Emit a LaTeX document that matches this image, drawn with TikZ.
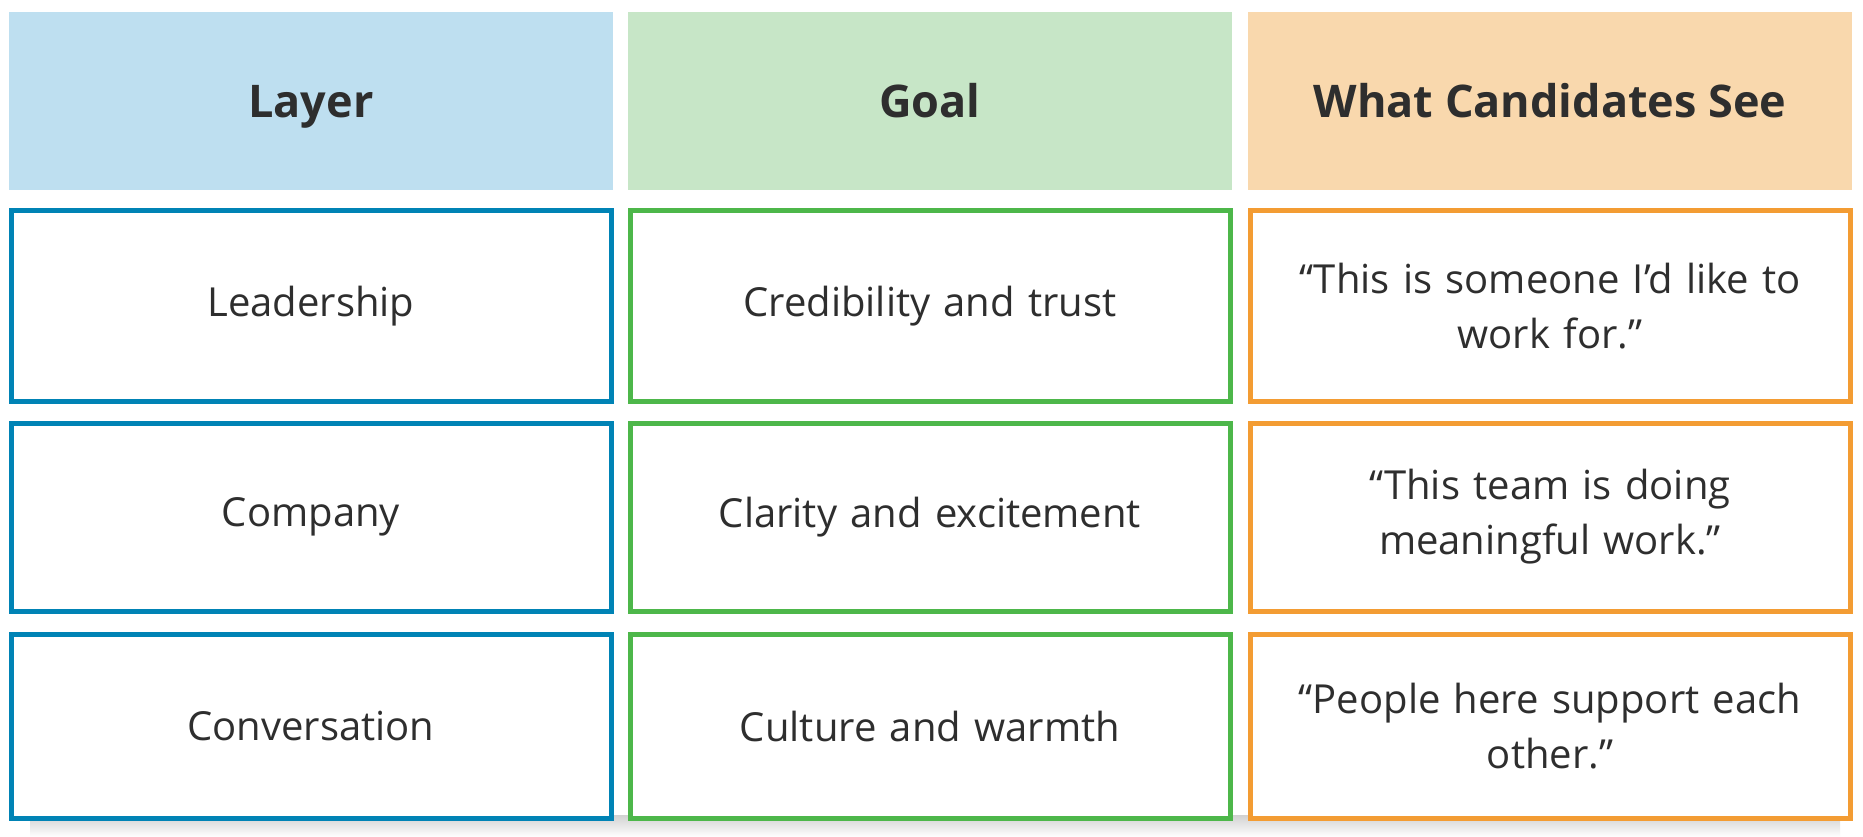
\documentclass[tikz,border=0pt]{standalone}
\usepackage{fontspec}
\setmainfont{Open Sans}
\begin{document}
\begin{tikzpicture}[x=1pt,y=-1pt,
  hdr/.style={minimum width=604pt,minimum height=178pt,font=\fontsize{45}{54}\selectfont\bfseries,text=black!82,inner sep=0,text height=34pt,text depth=0pt},
  cell/.style={draw=#1,line width=5pt,fill=white,minimum width=600pt,minimum height=190pt,align=center,text width=580pt,font=\fontsize{40}{55}\selectfont,text=black!82,inner sep=0}]
\useasboundingbox (0,0) rectangle (1863,837);
\fill[white] (0,0) rectangle (1863,837);
\shade[top color=black!18,bottom color=white] (30,815) rectangle (1840,837);
\definecolor{cb}{HTML}{0083B5}\definecolor{cg}{HTML}{4DB74A}\definecolor{co}{HTML}{F39C33}
\definecolor{hb}{HTML}{BEDFF0}\definecolor{hg}{HTML}{C7E6C7}\definecolor{ho}{HTML}{F9D8AD}
\node[hdr,fill=hb] (h1) at (311,101) {Layer};
\node[hdr,fill=hg] (h2) at (930,101) {Goal};
\node[hdr,fill=ho] (h3) at (1550,101) {What Candidates See};
\node[cell=cb] (a1) at (311,306) {Leadership};
\node[cell=cg] (b1) at (930,306) {Credibility and trust};
\node[cell=co] (c1) at (1550,306) {“This is someone I’d like to\\work for.”};
\node[cell=cb,minimum height=188pt] (a2) at (311,517) {Company};
\node[cell=cg,minimum height=188pt] (b2) at (930,517) {Clarity and excitement};
\node[cell=co,minimum height=188pt] (c2) at (1550,517) {“This team is doing\\meaningful work.”};
\node[cell=cb,minimum height=184pt] (a3) at (311,726) {Conversation};
\node[cell=cg,minimum height=184pt] (b3) at (930,726) {Culture and warmth};
\node[cell=co,minimum height=184pt] (c3) at (1550,726) {“People here support each\\other.”};
\end{tikzpicture}
\end{document}
